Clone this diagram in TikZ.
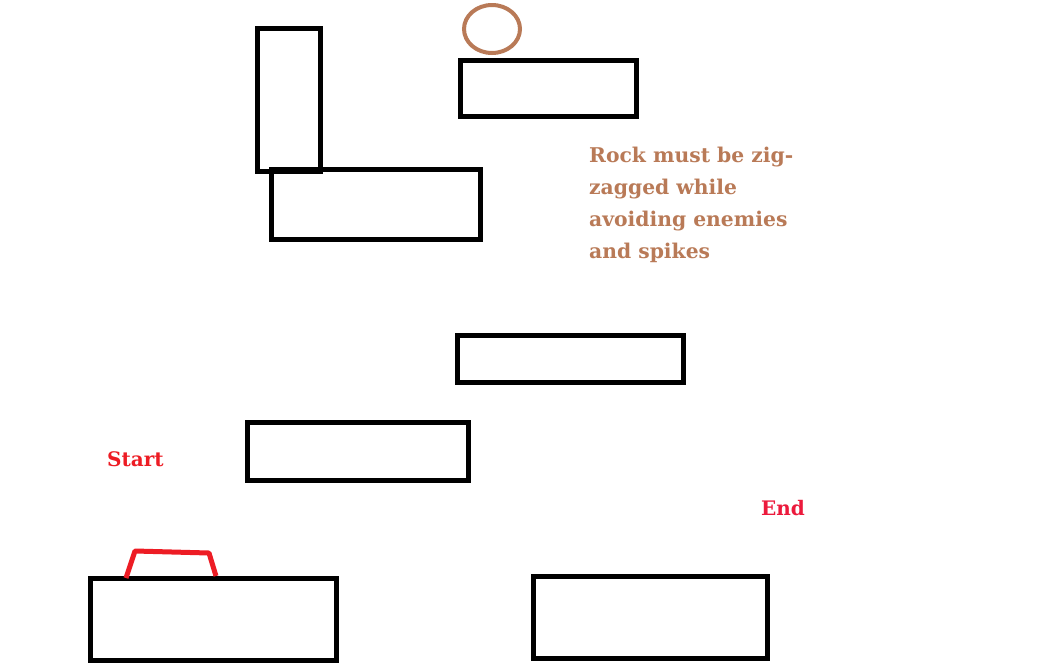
\documentclass[tikz,border=0pt]{standalone}
\usepackage{fontspec}
\newfontfamily\paintfont{DejaVu Serif}
\definecolor{rockbrown}{HTML}{B97A57}
\definecolor{startred}{HTML}{ED1C24}
\definecolor{endred}{HTML}{EC1A3C}
\begin{document}
\begin{tikzpicture}[x=1pt,y=-1pt,
  platform/.style={draw=black,line width=5pt},
  rocktext/.style={text=rockbrown,font=\paintfont\bfseries\fontsize{20.3}{32}\selectfont,inner sep=0pt,anchor=base west},
  marktext/.style={font=\paintfont\bfseries\fontsize{20}{26}\selectfont,inner sep=0pt,anchor=base west}]
\useasboundingbox[fill=white] (0,0) rectangle (1063,665);
% platforms
\draw[platform] (271.5,169.5) rectangle (480.5,239.5);
\draw[platform] (257.5,28.5) rectangle (320.5,171.5);
\draw[platform] (460.5,60.5) rectangle (636.5,116.5);
\draw[platform] (457.5,335.5) rectangle (683.5,382.5);
\draw[platform] (247.5,422.5) rectangle (468.5,480.5);
\draw[platform] (90.5,578.5) rectangle (336.5,660.5);
\draw[platform] (533.5,576.5) rectangle (767.5,658.5);
% rock
\draw[rockbrown,line width=4pt] (492,29) ellipse [x radius=28,y radius=24];
% spike
\draw[startred,line width=5pt,line join=round] (126,578) -- (135,551) -- (209,553) -- (216,576);
% texts
\node[rocktext] (t1) at (589,162) {Rock must be zig-};
\node[rocktext] (t2) at (589,194) {zagged while};
\node[rocktext] (t3) at (589,226) {avoiding enemies};
\node[rocktext] (t4) at (589,258) {and spikes};
\node[marktext,text=startred] (start) at (107,466) {Start};
\node[marktext,text=endred] (end) at (761,515) {End};
\end{tikzpicture}
\end{document}
